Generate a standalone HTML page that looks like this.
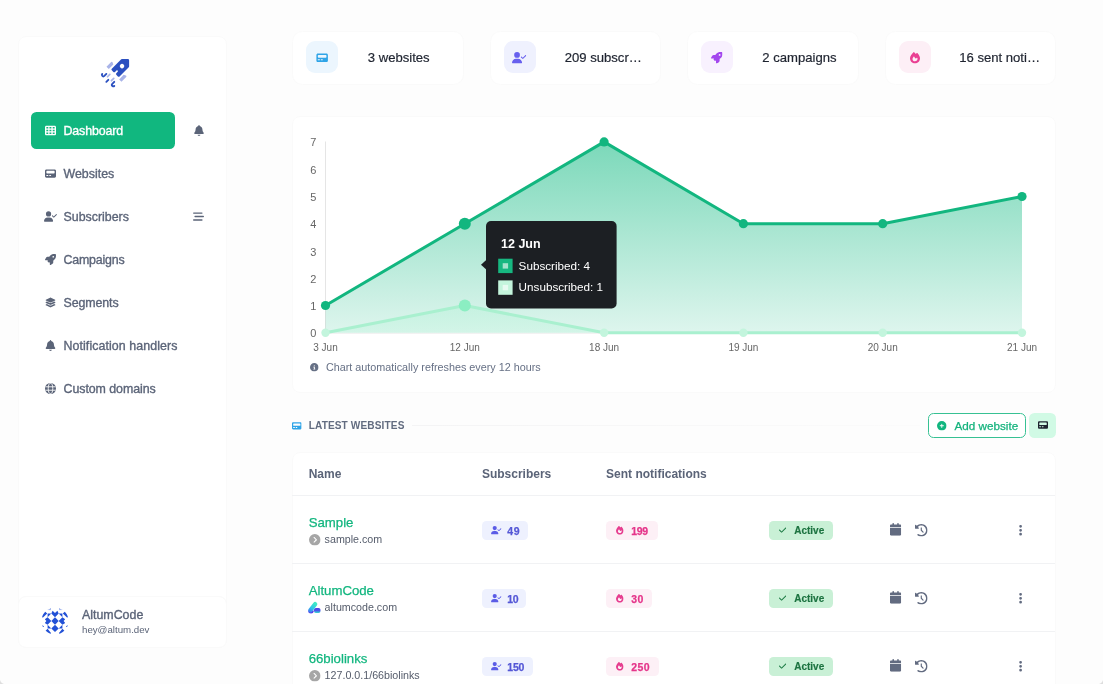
<!DOCTYPE html>
<html lang="en">
<head>
<meta charset="utf-8">
<title>Dashboard</title>
<style>
*{box-sizing:border-box;margin:0;padding:0}
html,body{width:1103px;height:684px;overflow:hidden}
body{position:relative;background:#fdfdfd;font-family:"Liberation Sans",sans-serif;color:#1f2937}
.abs{position:absolute}
.card{position:absolute;background:#fff;border:1px solid #fafafa;border-radius:8px;box-shadow:0 0 1px rgba(0,0,0,.012)}
svg{display:block;position:absolute;overflow:visible}
.t{position:absolute;white-space:nowrap;line-height:1}
.hr{position:absolute;height:1px;background:#f1f2f4}
</style>
</head>
<body>
<svg width="0" height="0" style="position:absolute">
<defs>
<symbol id="i-bell" viewBox="0 0 448 512"><path d="M224 0c-17.700 0-32 14.300-32 32V51.200C119 66 64 130.600 64 208v18.800c0 47-17.300 92.400-48.500 127.600l-7.400 8.300c-8.400 9.400-10.400 22.900-5.300 34.400S19.400 416 32 416H416c12.600 0 24-7.400 29.200-18.900s3.100-25-5.300-34.400l-7.400-8.300C401.300 319.200 384 273.900 384 226.800V208c0-77.400-55-142-128-156.800V32c0-17.700-14.300-32-32-32zm45.300 493.300c12-12 18.700-28.300 18.700-45.300H224 160c0 17 6.700 33.300 18.700 45.300s28.300 18.700 45.300 18.700s33.300-6.700 45.300-18.700z"/></symbol>
<symbol id="i-dots" viewBox="0 0 128 512"><path d="M64 360a56 56 0 1 0 0 112 56 56 0 1 0 0-112zm0-160a56 56 0 1 0 0 112 56 56 0 1 0 0-112zM120 96A56 56 0 1 0 8 96a56 56 0 1 0 112 0z"/></symbol>
<symbol id="i-check" viewBox="0 0 448 512"><path d="M438.600 105.400c12.500 12.500 12.500 32.800 0 45.300l-256 256c-12.500 12.500-32.800 12.500-45.300 0l-128-128c-12.500-12.500-12.500-32.800 0-45.300s32.800-12.500 45.300 0L160 338.700 393.400 105.400c12.500-12.500 32.800-12.500 45.300 0z"/></symbol>
<symbol id="i-plus" viewBox="0 0 512 512"><path d="M256 512A256 256 0 1 0 256 0a256 256 0 1 0 0 512zM232 344V280H168c-13.300 0-24-10.700-24-24s10.700-24 24-24h64V168c0-13.300 10.700-24 24-24s24 10.700 24 24v64h64c13.300 0 24 10.700 24 24s-10.700 24-24 24H280v64c0 13.300-10.700 24-24 24s-24-10.700-24-24z"/></symbol>
<symbol id="i-info" viewBox="0 0 512 512"><path d="M256 512A256 256 0 1 0 256 0a256 256 0 1 0 0 512zM216 336h24V272H216c-13.300 0-24-10.700-24-24s10.700-24 24-24h48c13.300 0 24 10.700 24 24v88h8c13.300 0 24 10.700 24 24s-10.700 24-24 24H216c-13.300 0-24-10.700-24-24s10.700-24 24-24zm40-208a32 32 0 1 1 0 64 32 32 0 1 1 0-64z"/></symbol>
<symbol id="i-cal" viewBox="0 0 448 512"><path d="M96 32V64H48C21.500 64 0 85.500 0 112v48H448V112c0-26.500-21.500-48-48-48H352V32c0-17.700-14.300-32-32-32s-32 14.300-32 32V64H160V32c0-17.700-14.300-32-32-32S96 14.300 96 32zM448 192H0V464c0 26.500 21.500 48 48 48H400c26.500 0 48-21.500 48-48V192z"/></symbol>
<symbol id="i-pager" viewBox="0 0 512 512"><path fill-rule="evenodd" d="M0 128C0 92.700 28.700 64 64 64H448c35.300 0 64 28.700 64 64V384c0 35.300-28.700 64-64 64H64c-35.300 0-64-28.700-64-64V128zm64 32v64c0 17.700 14.300 32 32 32H416c17.700 0 32-14.300 32-32V160c0-17.700-14.300-32-32-32H96c-17.700 0-32 14.300-32 32zM80 320c-13.300 0-24 10.700-24 24s10.700 24 24 24h56c13.300 0 24-10.700 24-24s-10.700-24-24-24H80zm136 0c-13.300 0-24 10.700-24 24s10.700 24 24 24h48c13.300 0 24-10.700 24-24s-10.700-24-24-24H216z"/></symbol>
<symbol id="i-table" viewBox="0 0 512 512"><path fill-rule="evenodd" d="M64 32C28.700 32 0 60.700 0 96V416c0 35.300 28.700 64 64 64H448c35.300 0 64-28.700 64-64V96c0-35.300-28.700-64-64-64H64zm88 64v64H64V96h88zm56 0h88v64H208V96zm240 0v64H360V96h88zM64 224h88v64H64V224zm232 0v64H208V224h88zm64 0h88v64H360V224zM152 352v64H64V352h88zm56 0h88v64H208V352zm240 0v64H360V352h88z"/></symbol>
<symbol id="i-ucheck" viewBox="0 0 640 512"><path d="M96 128a128 128 0 1 1 256 0A128 128 0 1 1 96 128zM0 482.300C0 383.800 79.800 304 178.300 304h91.400C368.200 304 448 383.800 448 482.300c0 16.400-13.300 29.700-29.700 29.700H29.700C13.300 512 0 498.700 0 482.300zM625 177L497 305c-9.400 9.400-24.600 9.400-33.900 0l-64-64c-9.400-9.400-9.400-24.600 0-33.900s24.600-9.400 33.900 0l47 47L591 143c9.400-9.400 24.600-9.400 33.900 0s9.400 24.600 0 33.900z"/></symbol>
<symbol id="i-layers" viewBox="0 0 576 512"><path d="M264.500 5.200c14.900-6.900 32.100-6.900 47 0l218.600 101c8.500 3.900 13.900 12.400 13.900 21.800s-5.400 17.900-13.900 21.800l-218.600 101c-14.900 6.900-32.100 6.900-47 0L45.900 149.800C37.400 145.800 32 137.300 32 128s5.400-17.900 13.900-21.800L264.500 5.200zM476.900 209.600l53.200 24.600c8.500 3.900 13.900 12.400 13.900 21.800s-5.400 17.900-13.900 21.800l-218.600 101c-14.900 6.900-32.100 6.900-47 0L45.900 277.800C37.400 273.800 32 265.300 32 256s5.400-17.900 13.900-21.800l53.200-24.600 152 70.200c23.400 10.800 50.400 10.800 73.800 0l152-70.200zm-152 198.200l152-70.200 53.200 24.600c8.500 3.900 13.900 12.400 13.900 21.800s-5.400 17.900-13.900 21.800l-218.600 101c-14.900 6.900-32.100 6.900-47 0L45.900 405.800C37.400 401.800 32 393.300 32 384s5.400-17.900 13.900-21.800l53.200-24.600 152 70.200c23.400 10.800 50.400 10.800 73.800 0z"/></symbol>
<symbol id="i-rocket" viewBox="0 0 512 512"><path d="M156.600 384.900L125.700 354c-8.500-8.500-11.500-20.800-7.700-32.200c3-8.900 7-20.500 11.800-33.800L24 288c-8.600 0-16.600-4.600-20.900-12.100s-4.200-16.700 .2-24.100l52.500-88.500c13-21.900 36.500-35.300 61.900-35.300l82.300 0c2.400-4 4.800-7.700 7.200-11.300C289.100-4.100 411.100-8.100 483.900 5.300c11.600 2.100 20.600 11.200 22.800 22.800c13.400 72.900 9.300 194.800-111.400 276.700c-3.500 2.400-7.300 4.800-11.300 7.200v82.300c0 25.400-13.400 49-35.300 61.900l-88.500 52.500c-7.400 4.400-16.600 4.500-24.100 .2s-12.100-12.200-12.100-20.900V380.800c-14.100 4.900-26.400 8.900-35.700 11.900c-11.200 3.600-23.400 .5-31.800-7.800zM384 168a40 40 0 1 0 0-80 40 40 0 1 0 0 80z"/></symbol>
<symbol id="i-fire" viewBox="0 0 448 512"><path fill-rule="evenodd" d="M159.300 5.400c7.800-7.300 19.900-7.200 27.700 .1c27.600 25.900 53.500 53.800 77.700 84c11-14.400 23.500-30.100 37-42.900c7.900-7.400 20.100-7.400 28 .1c34.600 33 63.900 76.600 84.500 118c20.300 40.800 33.800 82.500 33.800 111.900C448 404.200 348.200 512 224 512C98.400 512 0 404.100 0 276.500c0-38.400 17.800-85.300 45.400-131.700C73.300 97.700 112.700 48.600 159.300 5.400zM225.700 416c25.300 0 47.700-7 68.800-21c42.100-29.400 53.400-88.200 28.100-134.400c-4.500-9-16-9.600-22.500-2l-25.200 29.300c-6.600 7.600-18.500 7.400-24.700-.5c-16.500-21-46-58.500-62.800-79.800c-6.300-8-18.300-8.100-24.700-.1c-33.800 42.500-50.800 69.300-50.800 99.400C112 375.400 162.600 416 225.700 416z"/></symbol>
<symbol id="i-hist" viewBox="0 0 512 512"><path d="M75 75L41 41C25.900 25.900 0 36.600 0 57.900V168c0 13.300 10.700 24 24 24H134.100c21.400 0 32.100-25.900 17-41l-30.800-30.800C155 85.500 203 64 256 64c106 0 192 86 192 192s-86 192-192 192c-40.800 0-78.600-12.700-109.700-34.400c-14.500-10.100-34.400-6.600-44.600 7.900s-6.600 34.400 7.900 44.600C151.200 495 201.700 512 256 512c141.400 0 256-114.600 256-256S397.400 0 256 0C185.300 0 121.300 28.700 75 75zm181 53c-13.300 0-24 10.700-24 24V256c0 6.400 2.500 12.500 7 17l72 72c9.400 9.400 24.600 9.400 33.900 0s9.400-24.600 0-33.900l-65-65V152c0-13.300-10.700-24-24-24z"/></symbol>
<symbol id="i-bars" viewBox="0 0 512 512"><path d="M0 96C0 78.300 14.300 64 32 64H416c17.700 0 32 14.300 32 32s-14.300 32-32 32H32C14.300 128 0 113.700 0 96zM64 256c0-17.700 14.300-32 32-32H480c17.700 0 32 14.300 32 32s-14.300 32-32 32H96c-17.700 0-32-14.300-32-32zM448 416c0 17.700-14.300 32-32 32H32c-17.700 0-32-14.300-32-32s14.300-32 32-32H416c17.700 0 32 14.300 32 32z"/></symbol>
<symbol id="i-chev" viewBox="0 0 512 512"><path d="M0 256a256 256 0 1 0 512 0A256 256 0 1 0 0 256zM241 377c-9.400 9.400-24.600 9.400-33.900 0s-9.400-24.600 0-33.900l87-87-87-87c-9.400-9.400-9.400-24.600 0-33.900s24.600-9.400 33.900 0L345 239c9.400 9.400 9.400 24.600 0 33.900L241 377z"/></symbol>
<symbol id="i-globe" viewBox="0 0 512 512"><circle cx="256" cy="256" r="256"/><g fill="none" stroke="#fff" stroke-width="40"><ellipse cx="256" cy="256" rx="105" ry="236"/><path d="M20 176H492M20 336H492"/></g></symbol>
</defs>
</svg>
<div id="app" style="position:absolute;left:0;top:0;width:1103px;height:684px;will-change:transform">
<!-- sidebar -->
<div class="card" style="left:17.5px;top:35.5px;width:209.5px;height:612px"></div>
<div class="abs" style="left:31px;top:112.3px;width:144.3px;height:36.7px;background:#11b77f;border-radius:5.5px;"></div>
<svg style="left:45.00px;top:125.00px;fill:#fff" width="11" height="11"><use href="#i-table"/></svg>
<div class="t" style="left:63.50px;top:125px;font-size:12.4px;color:#fff;-webkit-text-stroke:0.35px #fff;letter-spacing:-0.12px;">Dashboard</div>
<svg style="left:45.00px;top:168.00px;fill:#5b6478" width="11" height="11"><use href="#i-pager"/></svg>
<div class="t" style="left:63.50px;top:168px;font-size:12.4px;color:#5b6478;-webkit-text-stroke:0.35px #5b6478;letter-spacing:0px;">Websites</div>
<svg style="left:44.00px;top:211.00px;fill:#5b6478" width="13" height="11"><use href="#i-ucheck"/></svg>
<div class="t" style="left:63.50px;top:211px;font-size:12.4px;color:#5b6478;-webkit-text-stroke:0.35px #5b6478;letter-spacing:0px;">Subscribers</div>
<svg style="left:45.00px;top:254.00px;fill:#5b6478" width="11" height="11"><use href="#i-rocket"/></svg>
<div class="t" style="left:63.50px;top:254px;font-size:12.4px;color:#5b6478;-webkit-text-stroke:0.35px #5b6478;letter-spacing:-0.2px;">Campaigns</div>
<svg style="left:45.00px;top:297.00px;fill:#5b6478" width="11" height="11"><use href="#i-layers"/></svg>
<div class="t" style="left:63.50px;top:297px;font-size:12.4px;color:#5b6478;-webkit-text-stroke:0.35px #5b6478;letter-spacing:-0.1px;">Segments</div>
<svg style="left:45.00px;top:340.00px;fill:#5b6478" width="11" height="11"><use href="#i-bell"/></svg>
<div class="t" style="left:63.50px;top:340px;font-size:12.4px;color:#5b6478;-webkit-text-stroke:0.35px #5b6478;letter-spacing:0.08px;">Notification handlers</div>
<svg style="left:45.00px;top:383.00px;fill:#5b6478" width="11" height="11"><use href="#i-globe"/></svg>
<div class="t" style="left:63.50px;top:383px;font-size:12.4px;color:#5b6478;-webkit-text-stroke:0.35px #5b6478;letter-spacing:-0.05px;">Custom domains</div>
<svg style="left:193.50px;top:125.00px;fill:#5b6478" width="10" height="11"><use href="#i-bell"/></svg>
<svg style="left:193.00px;top:211.00px;fill:#5b6478" width="11" height="11"><use href="#i-bars"/></svg>
<div class="card" style="left:17.5px;top:595.5px;width:209.5px;height:52px"></div>
<div class="t" style="left:82.00px;top:609px;font-size:12.4px;color:#5b6478;-webkit-text-stroke:0.35px #5b6478;">AltumCode</div>
<div class="t" style="left:82.00px;top:625px;font-size:9.7px;color:#5b6478;">hey@altum.dev</div>
<!-- logo -->
<svg style="left:0;top:0" width="1103" height="684" viewBox="0 0 1103 684">
<g transform="translate(121.9 66.3) rotate(45)">
  <path d="M0,-8.500 L4.300,-4.200 V8.800 H2.100 V6.900 a2.100,2.100 0 0 0 -4.200,0 V8.800 H-4.300 V-4.200 Z" fill="#2b50c0" stroke="#2b50c0" stroke-width="2.400" stroke-linejoin="round"/>
  <circle cx="0" cy="-.2" r="2.200" fill="#fff"/>
  <path d="M-10.600,4.600 q0,-1.400 1.300,-.800 l2,1 v6.400 h-3.300 z M10.600,4.600 q0,-1.400 -1.300,-.800 l-2,1 v6.400 h3.300 z" fill="#a9b4e8"/>
  <g fill="none" stroke="#2b50c0" stroke-width="1.900" stroke-linecap="round" stroke-linejoin="round">
    <path d="M-5.600,16.400 V19.200 q0,1.600 -1.600,1.400 q-1.200,-.200 -1.300,-1.300"/>
    <path d="M5.600,16.400 V19.200 q0,1.600 1.600,1.400 q1.200,-.200 1.300,-1.300"/>
    <path d="M0,19.200 V22"/>
  </g>
  <g fill="none" stroke="#a9b4e8" stroke-width="1.700" stroke-linecap="round">
    <path d="M-2.800,14.300 V17.600 M2.800,14.300 V17.600"/>
  </g>
</g>
</svg>

<!-- avatar -->
<svg style="left:0;top:0" width="1103" height="684" viewBox="0 0 1103 684">
<defs><clipPath id="avc"><circle cx="0" cy="0" r="13.5"/></clipPath></defs>
<g transform="translate(55 621)" clip-path="url(#avc)" fill="#2251d6">
  <path d="M0,-3.700 L3.700,0 0,3.700 -3.700,0Z"/>
  <path d="M0,-3.700 L-3.700,-7.400 -2.400,-10.200 0,-8 2.400,-10.200 3.700,-7.400Z"/>
  <path d="M0,3.700 L-3.700,7.400 0,11.100 3.700,7.400Z"/>
  <path d="M-3.700,0 L-7.400,-3.700 -10.200,-1.800 -8.600,0 -10.200,2 -7.400,3.700Z"/>
  <path d="M3.700,0 L7.400,-3.700 10.200,-1.800 8.600,0 10.200,2 7.400,3.700Z"/>
  <path d="M-3.700,-7.400 H-7.400 V-3.700Z M3.700,-7.400 H7.400 V-3.700Z M-3.700,7.400 H-7.400 V3.700Z M3.700,7.400 H7.400 V3.700Z"/>
  <path d="M-7.800,-7.600 L-10.500,-10 -14,-4 -12,-3.500Z M7.800,-7.600 L10.500,-10 14,-4 12,-3.500Z"/>
  <path d="M-7.400,7.800 L-10.200,10.500 -4.500,13.500 -4,12Z M7.400,7.800 L10.200,10.500 4.500,13.500 4,12Z"/>
  <path d="M-4,-13 l-1.600,1 .6,1.600Z M4,-13 l1.600,1 -.6,1.600Z M-6.500,-12 l-1,.4 .6,.9Z M6.500,-12 l1,.4 -.6,.9Z"/>
  <path d="M-13.500,4 l2.600,1.200 -1.400,1.200Z M13.500,4 l-2.600,1.200 1.400,1.200Z"/>
</g>
</svg>

<!-- stat cards -->
<div class="card" style="left:292.0px;top:30.500px;width:171.500px;height:54px;border-radius:10.500px"></div>
<div class="abs" style="left:306.0px;top:41px;width:32px;height:32.3px;background:#ecf6fe;border-radius:9px;"></div>
<svg style="left:315.85px;top:51.55px;fill:#2fa4e7" width="12.3" height="11.5"><use href="#i-pager"/></svg>
<div class="t" style="left:367.80px;top:52px;font-size:13.1px;color:#1f2430;height:16px;line-height:16px;margin-top:-2.450px;-webkit-text-stroke:.2px #1f2430;">3 websites</div>
<div class="card" style="left:489.5px;top:30.500px;width:171.500px;height:54px;border-radius:10.500px"></div>
<div class="abs" style="left:503.5px;top:41px;width:32px;height:32.3px;background:#eff1fe;border-radius:9px;"></div>
<svg style="left:512.30px;top:51.55px;fill:#6760ee" width="14.4" height="11.5"><use href="#i-ucheck"/></svg>
<div class="t" style="left:564.70px;top:52px;font-size:13.1px;color:#1f2430;width:78.5px;overflow:hidden;text-overflow:ellipsis;height:16px;line-height:16px;margin-top:-2.450px;-webkit-text-stroke:.2px #1f2430;">209 subscribers</div>
<div class="card" style="left:687.0px;top:30.500px;width:171.500px;height:54px;border-radius:10.500px"></div>
<div class="abs" style="left:701.0px;top:41px;width:32px;height:32.3px;background:#f8f1fe;border-radius:9px;"></div>
<svg style="left:711.25px;top:51.55px;fill:#a347ee" width="11.5" height="11.5"><use href="#i-rocket"/></svg>
<div class="t" style="left:762.30px;top:52px;font-size:13.1px;color:#1f2430;height:16px;line-height:16px;margin-top:-2.450px;-webkit-text-stroke:.2px #1f2430;">2 campaigns</div>
<div class="card" style="left:884.5px;top:30.500px;width:171.500px;height:54px;border-radius:10.500px"></div>
<div class="abs" style="left:898.5px;top:41px;width:32px;height:32.3px;background:#fdeff6;border-radius:9px;"></div>
<svg style="left:909.50px;top:51.55px;fill:#ea3f93" width="10" height="11.5"><use href="#i-fire"/></svg>
<div class="t" style="left:959.20px;top:52px;font-size:13.1px;color:#1f2430;width:82.8px;overflow:hidden;text-overflow:ellipsis;height:16px;line-height:16px;margin-top:-2.450px;-webkit-text-stroke:.2px #1f2430;">16 sent notifications</div>
<!-- chart -->
<div class="card" style="left:291.5px;top:116px;width:764px;height:276.5px"></div>
<svg style="left:0;top:0" width="1103" height="684" viewBox="0 0 1103 684">
<defs><linearGradient id="g1" gradientUnits="userSpaceOnUse" x1="0" y1="133" x2="0" y2="383"><stop offset="0" stop-color="#10b981" stop-opacity=".57"/><stop offset="1" stop-color="#10b981" stop-opacity=".03"/></linearGradient><linearGradient id="g2" gradientUnits="userSpaceOnUse" x1="0" y1="133" x2="0" y2="383"><stop offset="0" stop-color="#a7f3d0" stop-opacity=".6"/><stop offset="1" stop-color="#a7f3d0" stop-opacity=".1"/></linearGradient></defs>
<line x1="325.5" y1="141.5" x2="325.5" y2="333" stroke="#e5e5e5" stroke-width="1"/>
<line x1="325" y1="333.3" x2="1022" y2="333.3" stroke="#efefef" stroke-width="1"/>
<polygon points="325.5,332.8 325.5,305.5 464.8,223.7 604.1,141.9 743.4,223.7 882.7,223.7 1022.0,196.5 1022.0,332.8" fill="url(#g1)"/>
<polygon points="325.5,332.8 325.5,332.8 464.8,305.5 604.1,332.8 743.4,332.8 882.7,332.8 1022.0,332.8 1022.0,332.8" fill="url(#g2)"/>
<polyline points="325.5,305.5 464.8,223.7 604.1,141.9 743.4,223.7 882.7,223.7 1022.0,196.5" fill="none" stroke="#12b67f" stroke-width="3" stroke-linejoin="round" stroke-linecap="round"/>
<polyline points="325.5,332.8 464.8,305.5 604.1,332.8 743.4,332.8 882.7,332.8 1022.0,332.8" fill="none" stroke="#a9f0cf" stroke-width="3" stroke-linejoin="round" stroke-linecap="round"/>
<circle cx="325.5" cy="332.8" r="4.2" fill="#c3f5dd"/>
<circle cx="464.8" cy="305.5" r="6" fill="#8beec2"/>
<circle cx="604.1" cy="332.8" r="4.2" fill="#c3f5dd"/>
<circle cx="743.4" cy="332.8" r="4.2" fill="#c3f5dd"/>
<circle cx="882.7" cy="332.8" r="4.2" fill="#c3f5dd"/>
<circle cx="1022.0" cy="332.8" r="4.2" fill="#c3f5dd"/>
<circle cx="325.5" cy="305.5" r="4.6" fill="#12b67f"/>
<circle cx="464.8" cy="223.7" r="6" fill="#12b67f"/>
<circle cx="604.1" cy="141.9" r="4.6" fill="#12b67f"/>
<circle cx="743.4" cy="223.7" r="4.6" fill="#12b67f"/>
<circle cx="882.7" cy="223.7" r="4.6" fill="#12b67f"/>
<circle cx="1022.0" cy="196.5" r="4.6" fill="#12b67f"/>
<path d="M481,264.700 l5.500,-5 v10 z" fill="#1c1f23"/>
<rect x="486" y="221" width="130.600" height="87.400" rx="5" fill="#1c1f23"/>
<rect x="498.200" y="258.700" width="14.400" height="14.400" fill="#17b780"/><rect x="502.700" y="263.200" width="5.400" height="5.400" fill="#a5e3cc"/>
<rect x="498.200" y="280.400" width="14.400" height="14.400" fill="#c4f5dd"/><rect x="502.700" y="284.900" width="5.400" height="5.400" fill="#e8fbf2"/>
</svg>
<div class="t" style="left:304.00px;top:328px;font-size:11px;color:#666;width:12.300px;text-align:right;">0</div>
<div class="t" style="left:304.00px;top:301px;font-size:11px;color:#666;width:12.300px;text-align:right;">1</div>
<div class="t" style="left:304.00px;top:274px;font-size:11px;color:#666;width:12.300px;text-align:right;">2</div>
<div class="t" style="left:304.00px;top:247px;font-size:11px;color:#666;width:12.300px;text-align:right;">3</div>
<div class="t" style="left:304.00px;top:219px;font-size:11px;color:#666;width:12.300px;text-align:right;">4</div>
<div class="t" style="left:304.00px;top:192px;font-size:11px;color:#666;width:12.300px;text-align:right;">5</div>
<div class="t" style="left:304.00px;top:165px;font-size:11px;color:#666;width:12.300px;text-align:right;">6</div>
<div class="t" style="left:304.00px;top:137px;font-size:11px;color:#666;width:12.300px;text-align:right;">7</div>
<div class="t" style="left:295.50px;top:343px;font-size:10px;color:#666;width:60px;text-align:center;">3 Jun</div>
<div class="t" style="left:434.80px;top:343px;font-size:10px;color:#666;width:60px;text-align:center;">12 Jun</div>
<div class="t" style="left:574.10px;top:343px;font-size:10px;color:#666;width:60px;text-align:center;">18 Jun</div>
<div class="t" style="left:713.40px;top:343px;font-size:10px;color:#666;width:60px;text-align:center;">19 Jun</div>
<div class="t" style="left:852.70px;top:343px;font-size:10px;color:#666;width:60px;text-align:center;">20 Jun</div>
<div class="t" style="left:992.00px;top:343px;font-size:10px;color:#666;width:60px;text-align:center;">21 Jun</div>
<div class="t" style="left:501.00px;top:238px;font-size:12.5px;color:#fff;font-weight:bold;">12 Jun</div>
<div class="t" style="left:518.60px;top:260px;font-size:11.7px;color:#fff;">Subscribed: 4</div>
<div class="t" style="left:518.60px;top:281px;font-size:11.7px;color:#fff;">Unsubscribed: 1</div>
<svg style="left:309.50px;top:362.70px;fill:#667085" width="8.6" height="8.6"><use href="#i-info"/></svg>
<div class="t" style="left:325.90px;top:362px;font-size:10.8px;color:#667085;">Chart automatically refreshes every 12 hours</div>
<div class="abs" style="left:0;top:679px;width:5px;height:5px;background:radial-gradient(circle at 100% 0,rgba(0,0,0,0) 4.600px,#dedede 5.400px)"></div>
<div class="abs" style="left:1098px;top:679px;width:5px;height:5px;background:radial-gradient(circle at 0 0,rgba(0,0,0,0) 4.600px,#dedede 5.400px)"></div>
<!-- table -->
<svg style="left:292.20px;top:420.50px;fill:#2fa4e7" width="9.6" height="9.6"><use href="#i-pager"/></svg>
<div class="t" style="left:308.70px;top:421px;font-size:10.1px;color:#626c80;font-weight:bold;letter-spacing:.12px;">LATEST WEBSITES</div>
<div class="abs" style="left:412px;top:425px;width:508px;height:1px;background:linear-gradient(90deg,#f4f4f5,#fbfbfb)"></div>
<div class="abs" style="left:928.3px;top:412.5px;width:98px;height:25.3px;border:1px solid #37c193;border-radius:5.500px;background:#fff"></div>
<svg style="left:937.20px;top:420.50px;fill:#12b67f" width="9.6" height="9.6"><use href="#i-plus"/></svg>
<div class="t" style="left:954.50px;top:420px;font-size:11.7px;color:#14b37d;-webkit-text-stroke:0.25px #14b37d;">Add website</div>
<div class="abs" style="left:1029.1px;top:412.5px;width:26.7px;height:25.3px;background:#d1fae5;border-radius:5.5px;"></div>
<svg style="left:1037.60px;top:420.30px;fill:#1f2430" width="10" height="10"><use href="#i-pager"/></svg>
<div class="card" style="left:291.5px;top:451.5px;width:764px;height:260px;border-radius:8px"></div>
<div class="t" style="left:308.70px;top:468px;font-size:12px;color:#5b6478;font-weight:bold;">Name</div>
<div class="t" style="left:481.90px;top:468px;font-size:12px;color:#5b6478;font-weight:bold;">Subscribers</div>
<div class="t" style="left:606.10px;top:468px;font-size:12px;color:#5b6478;font-weight:bold;">Sent notifications</div>
<div class="hr" style="left:292px;top:495px;width:763px"></div>
<div class="t" style="left:308.70px;top:516px;font-size:13.2px;color:#12b67f;-webkit-text-stroke:0.25px #12b67f;">Sample</div>
<svg style="left:308.70px;top:533.70px;fill:#a6a6a6" width="11.6" height="11.6"><use href="#i-chev"/></svg>
<div class="t" style="left:324.60px;top:534px;font-size:10.7px;color:#555c6b;">sample.com</div>
<div class="abs" style="left:481.9px;top:521.1999999999999px;width:46.2px;height:18.6px;background:#eef1fe;border-radius:4.5px;"></div>
<svg style="left:490.70px;top:526.10px;fill:#5b5ce6" width="10.6" height="8.4"><use href="#i-ucheck"/></svg>
<div class="t" style="left:507.20px;top:526px;font-size:10.5px;color:#5457d6;font-weight:bold;-webkit-text-stroke:0.25px #5457d6;letter-spacing:0.6px;">49</div>
<div class="abs" style="left:606.1px;top:521.1999999999999px;width:51.6px;height:18.6px;background:#fdf0f6;border-radius:4.5px;"></div>
<svg style="left:615.80px;top:525.95px;fill:#e63d8f" width="7.6" height="8.7"><use href="#i-fire"/></svg>
<div class="t" style="left:631.20px;top:526px;font-size:10.5px;color:#e5358a;font-weight:bold;-webkit-text-stroke:0.25px #e5358a;letter-spacing:-0.25px;">199</div>
<div class="abs" style="left:769.3px;top:521.1999999999999px;width:63.9px;height:18.6px;background:#c9f0d6;border-radius:4.5px;"></div>
<svg style="left:778.60px;top:526.20px;fill:#1b7a43" width="7.2" height="8.2"><use href="#i-check"/></svg>
<div class="t" style="left:794.20px;top:526px;font-size:10px;color:#1c7340;font-weight:bold;-webkit-text-stroke:0.15px #1c7340;">Active</div>
<svg style="left:890.00px;top:523.40px;fill:#626b80" width="11.2" height="12.8"><use href="#i-cal"/></svg>
<svg style="left:914.90px;top:523.70px;fill:#626b80" width="12.6" height="12.6"><use href="#i-hist"/></svg>
<svg style="left:1018.80px;top:523.70px;fill:#626b80" width="3.2" height="12.6"><use href="#i-dots"/></svg>
<div class="hr" style="left:292px;top:563px;width:763px"></div>
<div class="t" style="left:308.70px;top:584px;font-size:13.2px;color:#12b67f;-webkit-text-stroke:0.25px #12b67f;">AltumCode</div>
<svg style="left:308.200px;top:601.70px" width="12.700" height="11.600" viewBox="0 0 12.700 11.600"><defs><linearGradient id="fa" gradientUnits="userSpaceOnUse" x1="7.300" y1="1.800" x2="2" y2="9.600"><stop offset="0" stop-color="#3fe9c6"/><stop offset=".6" stop-color="#2fc3ea"/><stop offset="1" stop-color="#3b82f0"/></linearGradient><linearGradient id="fb" x1="0" y1="0" x2="0" y2="1"><stop offset="0" stop-color="#4f3ae6"/><stop offset=".5" stop-color="#4a55ea"/><stop offset="1" stop-color="#35dccf"/></linearGradient></defs><rect x="6" y="5.900" width="6.500" height="5.100" rx="1.900" fill="url(#fb)"/><path d="M3,11.600 q-2.700,0 -2.900,-2 l2,-1.600 4,.7 q-.7,2.900 -3.100,2.900z" fill="#5a3be8"/><path d="M2.300,8.300 L7.200,2.100" fill="none" stroke="url(#fa)" stroke-width="4.300" stroke-linecap="round"/></svg>
<div class="t" style="left:324.60px;top:602px;font-size:10.7px;color:#555c6b;">altumcode.com</div>
<div class="abs" style="left:481.9px;top:589.1999999999999px;width:44.4px;height:18.6px;background:#eef1fe;border-radius:4.5px;"></div>
<svg style="left:490.70px;top:594.10px;fill:#5b5ce6" width="10.6" height="8.4"><use href="#i-ucheck"/></svg>
<div class="t" style="left:507.20px;top:594px;font-size:10.5px;color:#5457d6;font-weight:bold;-webkit-text-stroke:0.25px #5457d6;letter-spacing:-0.2px;">10</div>
<div class="abs" style="left:606.1px;top:589.1999999999999px;width:46.1px;height:18.6px;background:#fdf0f6;border-radius:4.5px;"></div>
<svg style="left:615.80px;top:593.95px;fill:#e63d8f" width="7.6" height="8.7"><use href="#i-fire"/></svg>
<div class="t" style="left:631.20px;top:594px;font-size:10.5px;color:#e5358a;font-weight:bold;-webkit-text-stroke:0.25px #e5358a;letter-spacing:0.4px;">30</div>
<div class="abs" style="left:769.3px;top:589.1999999999999px;width:63.9px;height:18.6px;background:#c9f0d6;border-radius:4.5px;"></div>
<svg style="left:778.60px;top:594.20px;fill:#1b7a43" width="7.2" height="8.2"><use href="#i-check"/></svg>
<div class="t" style="left:794.20px;top:594px;font-size:10px;color:#1c7340;font-weight:bold;-webkit-text-stroke:0.15px #1c7340;">Active</div>
<svg style="left:890.00px;top:591.40px;fill:#626b80" width="11.2" height="12.8"><use href="#i-cal"/></svg>
<svg style="left:914.90px;top:591.70px;fill:#626b80" width="12.6" height="12.6"><use href="#i-hist"/></svg>
<svg style="left:1018.80px;top:591.70px;fill:#626b80" width="3.2" height="12.6"><use href="#i-dots"/></svg>
<div class="hr" style="left:292px;top:631px;width:763px"></div>
<div class="t" style="left:308.70px;top:652px;font-size:13.2px;color:#12b67f;-webkit-text-stroke:0.25px #12b67f;">66biolinks</div>
<svg style="left:308.70px;top:669.70px;fill:#a6a6a6" width="11.6" height="11.6"><use href="#i-chev"/></svg>
<div class="t" style="left:324.60px;top:670px;font-size:10.7px;color:#555c6b;">127.0.0.1/66biolinks</div>
<div class="abs" style="left:481.9px;top:657.1999999999999px;width:51.1px;height:18.6px;background:#eef1fe;border-radius:4.5px;"></div>
<svg style="left:490.70px;top:662.10px;fill:#5b5ce6" width="10.6" height="8.4"><use href="#i-ucheck"/></svg>
<div class="t" style="left:507.20px;top:662px;font-size:10.5px;color:#5457d6;font-weight:bold;-webkit-text-stroke:0.25px #5457d6;letter-spacing:-0.15px;">150</div>
<div class="abs" style="left:606.1px;top:657.1999999999999px;width:53.1px;height:18.6px;background:#fdf0f6;border-radius:4.5px;"></div>
<svg style="left:615.80px;top:661.95px;fill:#e63d8f" width="7.6" height="8.7"><use href="#i-fire"/></svg>
<div class="t" style="left:631.20px;top:662px;font-size:10.5px;color:#e5358a;font-weight:bold;-webkit-text-stroke:0.25px #e5358a;letter-spacing:0.5px;">250</div>
<div class="abs" style="left:769.3px;top:657.1999999999999px;width:63.9px;height:18.6px;background:#c9f0d6;border-radius:4.5px;"></div>
<svg style="left:778.60px;top:662.20px;fill:#1b7a43" width="7.2" height="8.2"><use href="#i-check"/></svg>
<div class="t" style="left:794.20px;top:662px;font-size:10px;color:#1c7340;font-weight:bold;-webkit-text-stroke:0.15px #1c7340;">Active</div>
<svg style="left:890.00px;top:659.40px;fill:#626b80" width="11.2" height="12.8"><use href="#i-cal"/></svg>
<svg style="left:914.90px;top:659.70px;fill:#626b80" width="12.6" height="12.6"><use href="#i-hist"/></svg>
<svg style="left:1018.80px;top:659.70px;fill:#626b80" width="3.2" height="12.6"><use href="#i-dots"/></svg>
</div>
</body>
</html>
